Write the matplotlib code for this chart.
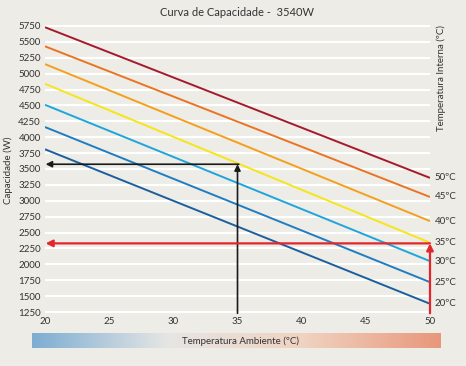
import numpy as np
import matplotlib
matplotlib.use("Agg")
import matplotlib.pyplot as plt
from matplotlib.colors import LinearSegmentedColormap

plt.rcParams['font.family'] = ['Lato', 'DejaVu Sans']

# data
ambient = [20, 50]
internal_temps = [20, 25, 30, 35, 40, 45, 50]
cap_at_20 = [3810, 4160, 4510, 4840, 5150, 5430, 5730]
cap_at_50 = [1380, 1720, 2050, 2340, 2680, 3060, 3360]
line_colors = ['#1b5f9f', '#1f7dc1', '#1fa5dc', '#f6e51a', '#f3a01e', '#ea7423', '#a5192c']
y_ticks = list(range(1250, 5751, 250))
x_ticks = [20, 25, 30, 35, 40, 45, 50]

# reading examples
nominal_temp = 35
nominal_cap = 3575
limit_temp = 50
limit_cap = 2330

bg = '#edece6'
fig = plt.figure(figsize=(4.66, 3.66), dpi=100, facecolor=bg)
ax = fig.add_axes([45 / 466, 1 - 313.3 / 366, 385 / 466, (313.3 - 24.7) / 366])
ax.set_facecolor(bg)

ax.set_xlim(20, 50)
ax.set_ylim(1230, 5770)
for yv in y_ticks:
    ax.axhline(yv, color='white', lw=1.6, zorder=1)

for t, c0, c1, col in zip(internal_temps, cap_at_20, cap_at_50, line_colors):
    ax.plot(ambient, [c0, c1], color=col, lw=1.4, zorder=3, solid_capstyle='butt')
    ax.text(50.35, c1, f'{t}ºC', fontsize=7, color='#333333', va='center', ha='left',
            clip_on=False)

# black reading arrows
ax.annotate('', xy=(nominal_temp, nominal_cap), xytext=(nominal_temp, 1230),
            arrowprops=dict(arrowstyle='-|>', color='#1a1a1a', lw=1.2,
                            mutation_scale=9, shrinkA=0, shrinkB=0), zorder=5)
ax.annotate('', xy=(20.05, nominal_cap), xytext=(nominal_temp + 0.1, nominal_cap),
            arrowprops=dict(arrowstyle='-|>', color='#1a1a1a', lw=1.2,
                            mutation_scale=9, shrinkA=0, shrinkB=0), zorder=5)
# red reading arrows
ax.annotate('', xy=(limit_temp, limit_cap), xytext=(limit_temp, 1230),
            arrowprops=dict(arrowstyle='-|>', color='#e3262c', lw=1.6,
                            mutation_scale=10, shrinkA=0, shrinkB=0),
            zorder=5, annotation_clip=False)
ax.annotate('', xy=(20.05, limit_cap), xytext=(limit_temp, limit_cap),
            arrowprops=dict(arrowstyle='-|>', color='#e3262c', lw=1.6,
                            mutation_scale=10, shrinkA=0, shrinkB=0), zorder=5)

ax.set_yticks(y_ticks)
ax.set_xticks(x_ticks)
ax.tick_params(length=0, labelsize=7, colors='#333333', pad=3)
for s in ax.spines.values():
    s.set_visible(False)

ax.set_title('Curva de Capacidade -  3540W', fontsize=8, color='#333333', pad=6)
fig.text(8 / 466, 1 - 170 / 366, 'Capacidade (W)', rotation=90, fontsize=7,
         color='#333333', ha='center', va='center')
fig.text(441 / 466, 1 - 78 / 366, 'Temperatura Interna (ºC)', rotation=90, fontsize=7,
         color='#333333', ha='center', va='center')

# gradient bar under the axis
cmap = LinearSegmentedColormap.from_list('amb', ['#7dadd2', '#e6e6e4', '#f0d2c0', '#e8977b'])
cax = fig.add_axes([32 / 466, 1 - 348 / 366, 409 / 466, 15 / 366])
cax.imshow(np.linspace(0, 1, 256)[None, :], aspect='auto', cmap=cmap)
cax.set_axis_off()
fig.text(241 / 466, 1 - 341 / 366, 'Temperatura Ambiente (ºC)', fontsize=7,
         color='#333333', ha='center', va='center')

fig.savefig('out.png', dpi=100, facecolor=bg)
